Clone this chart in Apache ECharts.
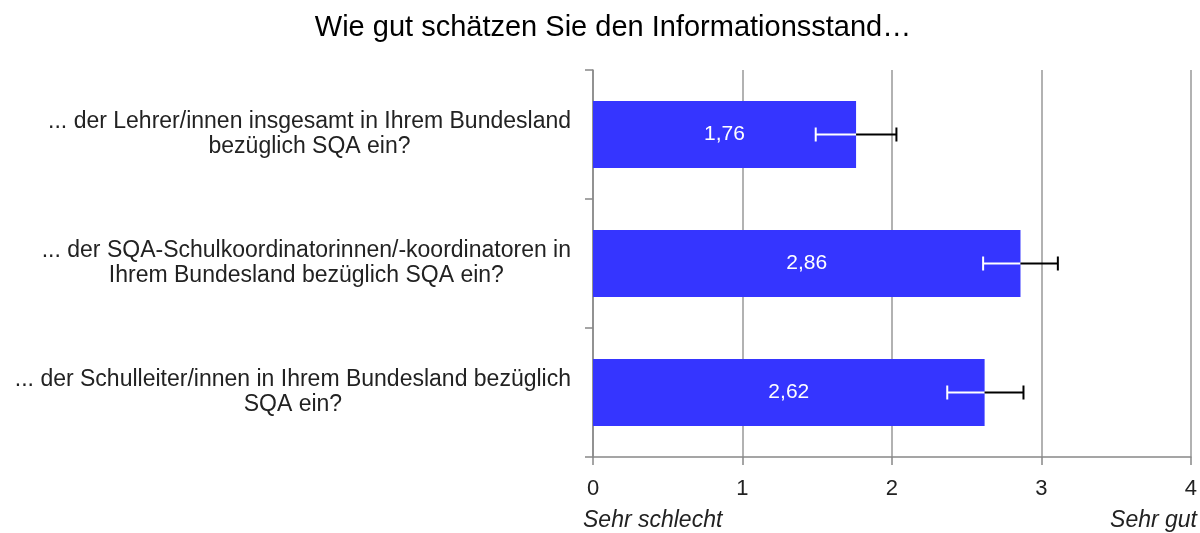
<!DOCTYPE html>
<html>
<head>
<meta charset="utf-8">
<script src="https://cdn.jsdelivr.net/npm/echarts@6/dist/echarts.min.js"></script>
<style>
  html, body { margin: 0; padding: 0; background: #fff; }
  #chart { width: 1200px; height: 533px; }
</style>
</head>
<body>
<div id="chart"></div>
<script>
// Fragen (Kategorien), von oben nach unten
var categories = [
  '... der Lehrer/innen insgesamt in Ihrem Bundesland\nbezüglich SQA ein?',
  '... der SQA-Schulkoordinatorinnen/-koordinatoren in\nIhrem Bundesland bezüglich SQA ein?',
  '... der Schulleiter/innen in Ihrem Bundesland bezüglich\nSQA ein?'
]
// Mittelwerte
var means = [1.76, 2.86, 2.62]
// Fehlerbalken: untere und obere Grenze
var errLow = [1.49, 2.61, 2.37]
var errHigh = [2.03, 3.11, 2.88]
// Achsenbeschriftung
var xTicks = [0, 1, 2, 3, 4]

var font = 'Liberation Sans, Helvetica, Arial, sans-serif'

var errData = []
for (var i = 0; i < means.length; i++) {
  errData.push([i, errLow[i], means[i], errHigh[i]])
}

var chart = echarts.init(document.getElementById('chart'))
chart.setOption({
  animation: false,
  title: {
    text: 'Wie gut schätzen Sie den Informationsstand…',
    left: 608,
    textAlign: 'center',
    top: 8,
    textStyle: { fontFamily: font, fontSize: 29, fontWeight: 'normal', color: '#000' }
  },
  grid: { left: 593, right: 6, top: 70, bottom: 76 },
  xAxis: {
    type: 'value',
    min: xTicks[0],
    max: xTicks[xTicks.length - 1],
    interval: 1,
    axisLine: { show: true, lineStyle: { color: '#888', width: 1.5 } },
    axisTick: { show: true, length: 8, lineStyle: { color: '#888', width: 1.5 } },
    axisLabel: { margin: 21, fontFamily: font, fontSize: 22, color: '#222' },
    splitLine: { show: true, lineStyle: { color: '#999', width: 1.5 } }
  },
  yAxis: {
    type: 'category',
    inverse: true,
    data: categories,
    axisLine: { show: true, lineStyle: { color: '#888', width: 1.5 } },
    axisTick: { show: true, length: 8, lineStyle: { color: '#888', width: 1.5 } },
    axisLabel: {
      margin: 22,
      align: 'right',
      fontFamily: font,
      fontSize: 23,
      color: '#222',
      lineHeight: 25,
      formatter: function (v) {
        return v.split('\n').map(function (s) { return '{c|' + s + '}' }).join('\n')
      },
      rich: {
        c: { align: 'center', fontFamily: font, fontSize: 23, color: '#222', lineHeight: 25 }
      }
    }
  },
  series: [
    {
      type: 'bar',
      data: means,
      barWidth: '52%',
      itemStyle: { color: '#3535FF' },
      label: {
        show: true,
        position: 'inside',
        color: '#fff',
        fontFamily: font,
        fontSize: 21,
        formatter: function (p) { return p.value.toFixed(2).replace('.', ',') }
      }
    },
    {
      type: 'custom',
      data: errData,
      encode: { x: [1, 2, 3], y: 0 },
      z: 10,
      renderItem: function (params, api) {
        var y = api.value(0)
        var lo = api.coord([api.value(1), y])
        var mid = api.coord([api.value(2), y])
        var hi = api.coord([api.value(3), y])
        var h = 7
        return {
          type: 'group',
          children: [
            { type: 'line', shape: { x1: lo[0], y1: lo[1], x2: mid[0], y2: mid[1] }, style: { stroke: '#fff', lineWidth: 2 } },
            { type: 'line', shape: { x1: lo[0], y1: lo[1] - h, x2: lo[0], y2: lo[1] + h }, style: { stroke: '#fff', lineWidth: 2 } },
            { type: 'line', shape: { x1: mid[0], y1: mid[1], x2: hi[0], y2: hi[1] }, style: { stroke: '#000', lineWidth: 2 } },
            { type: 'line', shape: { x1: hi[0], y1: hi[1] - h, x2: hi[0], y2: hi[1] + h }, style: { stroke: '#000', lineWidth: 2 } }
          ]
        }
      }
    }
  ],
  graphic: [
    { type: 'text', left: 583, top: 509, style: { text: 'Sehr schlecht', fontFamily: font, fontSize: 23, fontStyle: 'italic', fill: '#222' } },
    { type: 'text', right: 3, top: 509, style: { text: 'Sehr gut', fontFamily: font, fontSize: 23, fontStyle: 'italic', fill: '#222' } }
  ]
})
</script>
</body>
</html>
